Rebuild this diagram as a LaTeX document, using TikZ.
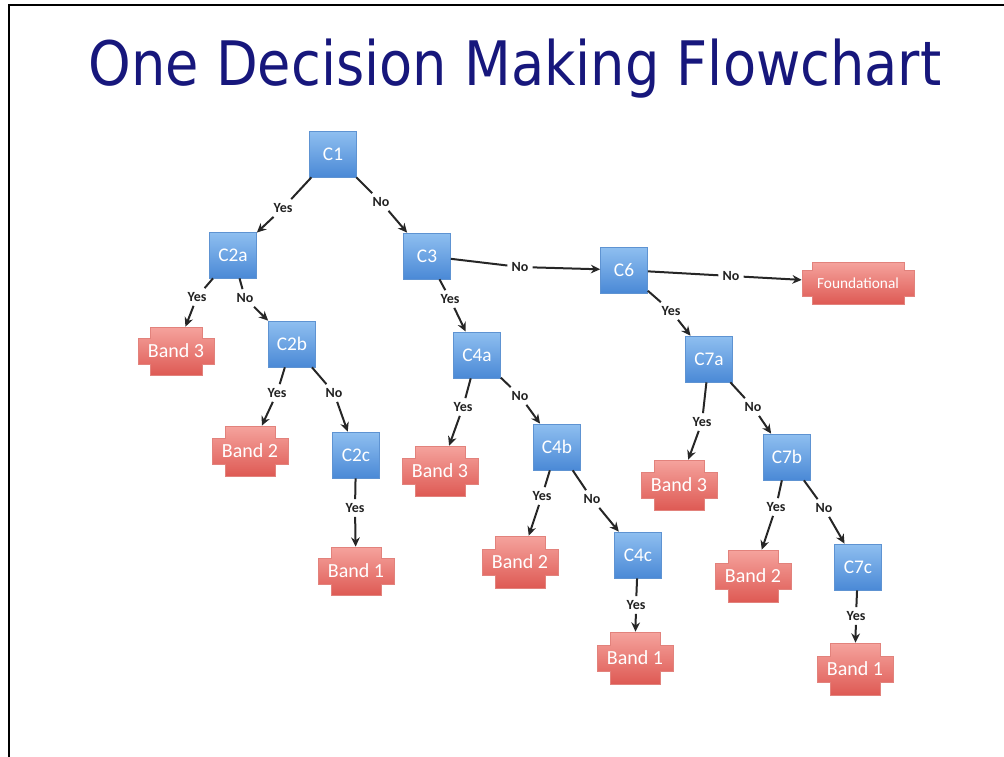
\documentclass[tikz,border=0pt]{standalone}
\usepackage{graphicx}
\usepackage{fontspec}
\setmainfont{Carlito}
\newfontfamily\titlefont{DejaVu Sans}
\usetikzlibrary{arrows.meta}
\definecolor{navy}{HTML}{17177C}
\definecolor{boxtop}{HTML}{8FBFF0}
\definecolor{boxbot}{HTML}{4A89D6}
\definecolor{boxedge}{HTML}{5E93D2}
\definecolor{bandtop}{HTML}{F5A39D}
\definecolor{bandbot}{HTML}{DE5A54}
\definecolor{bandedge}{HTML}{E2827C}
\definecolor{lbltext}{HTML}{222222}
\tikzset{
  cbox/.style={rectangle, minimum width=35.25pt, minimum height=34.5pt, inner sep=0pt,
    top color=boxtop, bottom color=boxbot, draw=boxedge, line width=0.5pt,
    text=white, font=\fontsize{14.5}{14.5}\selectfont},
  bandtxt/.style={rectangle, inner sep=0pt, text=white},
  lbl/.style={inner sep=3pt, text=lbltext, font=\bfseries\fontsize{10.5}{11}\selectfont},
  conn/.style={line width=1.5pt, black!85},
  arr/.style={conn, -{Stealth[length=7pt,width=6.5pt]}}
}
% name, x, y, half width, half height, inset, text, font size
\newcommand\bandat[8]{%
  \begin{scope}[shift={(#2,#3)}]
    \shade[top color=bandtop, bottom color=bandbot, draw=bandedge, line width=0.6pt]
      (-#4+#6,-#5) -- (#4-#6,-#5) -- (#4-#6,-13) -- (#4,-13) -- (#4,13) -- (#4-#6,13)
      -- (#4-#6,#5) -- (-#4+#6,#5) -- (-#4+#6,13) -- (-#4,13) -- (-#4,-13) -- (-#4+#6,-13) -- cycle;
  \end{scope}
  \node[bandtxt, minimum width={#4*1.5pt}, minimum height={#5*1.5pt}, font=\fontsize{#8}{#8}\selectfont] (#1) at (#2,#3) {#7};
}
\begin{document}
\begin{tikzpicture}[x=0.75pt, y=-0.75pt]
\useasboundingbox (0,0) rectangle (1004,757);
\draw[line width=1.7pt, line cap=rect] (9,757) -- (9,5) -- (1004,5);

\node[font=\titlefont\fontsize{46}{46}\selectfont, text=navy, anchor=base] (title) at (515,85)
  {\scalebox{0.884}[1]{One Decision Making Flowchart}};

% decision boxes
\node[cbox] (C1)  at (333,154) {C1};
\node[cbox] (C2a) at (233,255) {C2a};
\node[cbox] (C3)  at (427,256) {C3};
\node[cbox] (C6)  at (624,270) {C6};
\node[cbox] (C2b) at (292,344) {C2b};
\node[cbox] (C4a) at (477,355) {C4a};
\node[cbox] (C7a) at (709,359) {C7a};
\node[cbox] (C2c) at (356,455) {C2c};
\node[cbox] (C4b) at (557,447) {C4b};
\node[cbox] (C7b) at (787,457) {C7b};
\node[cbox] (C4c) at (638,555) {C4c};
\node[cbox] (C7c) at (858,567) {C7c};

% outcomes
\bandat{F}{858}{283}{56}{21}{10}{Foundational}{11.5}
\bandat{B3a}{176}{351}{38}{24}{12}{Band 3}{15}
\bandat{B2a}{250}{451}{38}{25}{13}{Band 2}{15}
\bandat{B3b}{440}{471}{38}{25}{13}{Band 3}{15}
\bandat{B3c}{679}{485}{38}{25}{13}{Band 3}{15}
\bandat{B1a}{356}{571}{38}{24}{13}{Band 1}{15}
\bandat{B2b}{520}{562}{38}{26}{13}{Band 2}{15}
\bandat{B2c}{753}{576}{38}{26}{13}{Band 2}{15}
\bandat{B1b}{635}{658}{38}{26}{13}{Band 1}{15}
\bandat{B1c}{855}{669}{38}{26}{13}{Band 1}{15}

% labels
\node[lbl] (l1)  at (283,208) {Yes};
\node[lbl] (l2)  at (381,202) {No};
\node[lbl] (l3)  at (197,297) {Yes};
\node[lbl] (l4)  at (245,298) {No};
\node[lbl] (l5)  at (277,393) {Yes};
\node[lbl] (l6)  at (334,393) {No};
\node[lbl] (l7)  at (355,508) {Yes};
\node[lbl] (l8)  at (450,299) {Yes};
\node[lbl] (l9)  at (520,267) {No};
\node[lbl] (l10) at (463,407) {Yes};
\node[lbl] (l11) at (520,396) {No};
\node[lbl] (l12) at (542,496) {Yes};
\node[lbl] (l13) at (592,499) {No};
\node[lbl] (l14) at (636,605) {Yes};
\node[lbl] (l15) at (731,276) {No};
\node[lbl] (l16) at (671,311) {Yes};
\node[lbl] (l17) at (702,422) {Yes};
\node[lbl] (l18) at (753,407) {No};
\node[lbl] (l19) at (776,507) {Yes};
\node[lbl] (l20) at (824,508) {No};
\node[lbl] (l21) at (856,616) {Yes};

% connectors
\draw[conn] (C1) -- (l1);   \draw[arr] (l1) -- (C2a);
\draw[conn] (C1) -- (l2);   \draw[arr] (l2) -- (C3);
\draw[conn] (C2a) -- (l3);  \draw[arr] (l3) -- (B3a);
\draw[conn] (C2a) -- (l4);  \draw[arr] (l4) -- (C2b);
\draw[conn] (C2b) -- (l5);  \draw[arr] (l5) -- (B2a);
\draw[conn] (C2b) -- (l6);  \draw[arr] (l6) -- (C2c);
\draw[conn] (C2c) -- (l7);  \draw[arr] (l7) -- (B1a);
\draw[conn] (C3) -- (l8);   \draw[arr] (l8) -- (C4a);
\draw[conn] (C3) -- (l9);   \draw[arr] (l9) -- (C6);
\draw[conn] (C4a) -- (l10); \draw[arr] (l10) -- (B3b);
\draw[conn] (C4a) -- (l11); \draw[arr] (l11) -- (C4b);
\draw[conn] (C4b) -- (l12); \draw[arr] (l12) -- (B2b);
\draw[conn] (C4b) -- (l13); \draw[arr] (l13) -- (C4c);
\draw[conn] (C4c) -- (l14); \draw[arr] (l14) -- (B1b);
\draw[conn] (C6) -- (l15);  \draw[arr] (l15) -- (F);
\draw[conn] (C6) -- (l16);  \draw[arr] (l16) -- (C7a);
\draw[conn] (C7a) -- (l17); \draw[arr] (l17) -- (B3c);
\draw[conn] (C7a) -- (l18); \draw[arr] (l18) -- (C7b);
\draw[conn] (C7b) -- (l19); \draw[arr] (l19) -- (B2c);
\draw[conn] (C7b) -- (l20); \draw[arr] (l20) -- (C7c);
\draw[conn] (C7c) -- (l21); \draw[arr] (l21) -- (B1c);
\end{tikzpicture}
\end{document}
